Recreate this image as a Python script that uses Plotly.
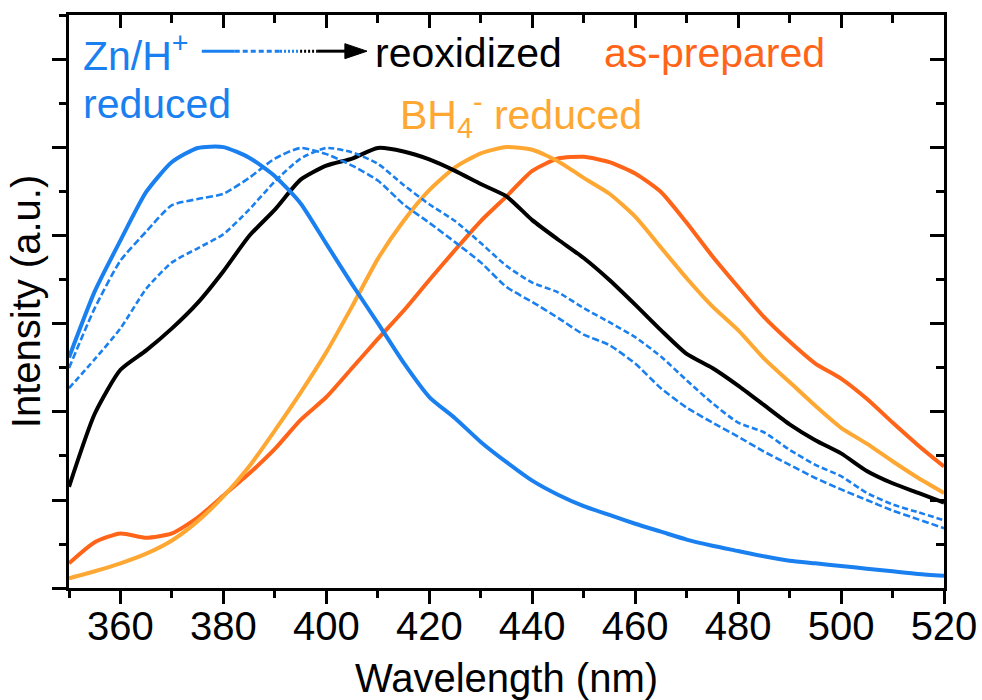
import plotly.graph_objects as go

# Emission wavelength grid (nm)
wavelength = [350, 355, 360, 365, 370, 375, 380, 385, 390, 395, 400, 405,
              410, 415, 420, 425, 430, 435, 440, 445, 450, 455, 460, 465,
              470, 475, 480, 485, 490, 495, 500, 505, 510, 515, 520]

# Zn/H+ reduced sample
zn_reduced = [2.62, 3.37, 3.95, 4.50, 4.84, 5.00, 5.01, 4.89, 4.68, 4.37, 3.91, 3.45,
              3.01, 2.56, 2.17, 1.93, 1.66, 1.43, 1.22, 1.06, 0.93, 0.83, 0.73, 0.64,
              0.55, 0.48, 0.42, 0.36, 0.31, 0.28, 0.25, 0.22, 0.19, 0.16, 0.14]

# intermediate reoxidation stages
reox_stage1 = [2.50, 3.18, 3.72, 4.05, 4.35, 4.42, 4.48, 4.66, 4.88, 5.00, 4.93, 4.80,
               4.63, 4.36, 4.15, 3.93, 3.70, 3.42, 3.25, 3.07, 2.88, 2.76, 2.55, 2.27,
               2.05, 1.88, 1.72, 1.55, 1.40, 1.25, 1.12, 1.00, 0.88, 0.78, 0.68]
reox_stage2 = [2.27, 2.60, 2.95, 3.40, 3.70, 3.86, 4.02, 4.30, 4.62, 4.88, 5.00, 4.95,
               4.82, 4.58, 4.36, 4.17, 3.92, 3.66, 3.47, 3.36, 3.18, 3.02, 2.85, 2.63,
               2.36, 2.10, 1.88, 1.77, 1.57, 1.40, 1.27, 1.08, 0.95, 0.86, 0.77]

# fully reoxidized
reoxidized = [1.15, 1.98, 2.48, 2.70, 2.95, 3.24, 3.60, 4.00, 4.30, 4.64, 4.80, 4.88,
              5.00, 4.96, 4.87, 4.74, 4.59, 4.45, 4.18, 3.96, 3.75, 3.50, 3.22, 2.93,
              2.66, 2.50, 2.30, 2.08, 1.86, 1.68, 1.53, 1.33, 1.19, 1.08, 0.97]

# BH4- reduced sample
bh4_reduced = [0.11, 0.19, 0.28, 0.39, 0.54, 0.76, 1.04, 1.38, 1.79, 2.22, 2.68, 3.20,
               3.74, 4.17, 4.52, 4.78, 4.94, 5.01, 4.98, 4.85, 4.66, 4.48, 4.22, 3.87,
               3.52, 3.20, 2.93, 2.61, 2.34, 2.07, 1.82, 1.64, 1.44, 1.25, 1.08]

# as-prepared sample
as_prepared = [0.28, 0.52, 0.62, 0.57, 0.62, 0.80, 1.05, 1.30, 1.58, 1.91, 2.17, 2.50,
               2.83, 3.15, 3.50, 3.84, 4.17, 4.45, 4.74, 4.88, 4.90, 4.84, 4.71, 4.50,
               4.15, 3.77, 3.42, 3.08, 2.80, 2.55, 2.38, 2.15, 1.88, 1.62, 1.38]

BLUE = "#1a80f0"
LIGHT_ORANGE = "#ffa733"
DARK_ORANGE = "#ff6418"
BLACK = "#000000"
FONT = "Liberation Sans, Arial, sans-serif"

X_RANGE = [350, 520]
Y_RANGE = [0, 6.511]

fig = go.Figure()

series = [
    (as_prepared, DARK_ORANGE, "solid", 4),
    (bh4_reduced, LIGHT_ORANGE, "solid", 4),
    (reoxidized, BLACK, "solid", 4),
    (reox_stage2, BLUE, "6px,3px", 2.6),
    (reox_stage1, BLUE, "7px,3px", 2.6),
    (zn_reduced, BLUE, "solid", 4),
]
for values, color, dash, width in series:
    fig.add_trace(go.Scatter(
        x=wavelength, y=values, mode="lines",
        line=dict(color=color, width=width, dash=dash, shape="spline", smoothing=0.6),
        showlegend=False, hoverinfo="skip",
    ))

# empty trace so the mirrored top/right axes get drawn
fig.add_trace(go.Scatter(x=[None], y=[None], xaxis="x2", yaxis="y2",
                         showlegend=False, hoverinfo="skip"))

# arrow key: solid -> dashed -> dotted -> reoxidized
key_y = 6.10
key_segments = [
    (375.8, 382.2, BLUE, "solid"),
    (382.2, 391.0, BLUE, "5px,3px"),
    (391.0, 394.9, BLUE, "2px,2px"),
    (394.9, 398.2, BLACK, "2px,2px"),
    (398.2, 404.0, BLACK, "solid"),
]
for x0, x1, color, dash in key_segments:
    fig.add_shape(type="line", xref="x", yref="y", x0=x0, x1=x1, y0=key_y, y1=key_y,
                  line=dict(color=color, width=3, dash=dash))
fig.add_shape(type="path", xref="x", yref="y",
              path=f"M 403.6,{key_y + 0.085} L 407.9,{key_y} L 403.6,{key_y - 0.085} Z",
              fillcolor=BLACK, line=dict(color=BLACK, width=1))

labels = [
    ("Zn/H<sup>+</sup>", 352.3, 6.08, "left", BLUE),
    ("reduced", 352.3, 5.50, "left", BLUE),
    ("reoxidized", 409.0, 6.08, "left", BLACK),
    ("as-prepared", 453.5, 6.08, "left", DARK_ORANGE),
    ("BH<sub>4</sub><sup>-</sup> reduced", 461.8, 5.38, "right", LIGHT_ORANGE),
]
for text, x, y, anchor, color in labels:
    fig.add_annotation(text=text, x=x, y=y, xref="x", yref="y", xanchor=anchor,
                       yanchor="middle", showarrow=False,
                       font=dict(family=FONT, size=41, color=color))

axis_common = dict(showline=True, linecolor=BLACK, linewidth=3, showgrid=False,
                   zeroline=False, tickcolor=BLACK, tickwidth=2.5, automargin=False)

fig.update_layout(
    width=982, height=700,
    margin=dict(l=69, r=38, t=15, b=112),
    paper_bgcolor="white", plot_bgcolor="white",
    font=dict(family=FONT, size=40, color=BLACK),
    xaxis=dict(range=X_RANGE, ticks="outside", tick0=360, dtick=20, ticklen=13,
               minor=dict(ticks="outside", tick0=350, dtick=10, ticklen=7,
                          tickwidth=2.5, tickcolor=BLACK),
               tickfont=dict(family=FONT, size=40, color=BLACK),
               ticklabelstandoff=-12,
               title=dict(text="Wavelength (nm)", standoff=17,
                          font=dict(family=FONT, size=40, color=BLACK)),
               **axis_common),
    xaxis2=dict(range=X_RANGE, overlaying="x", side="top", ticks="inside",
                tick0=360, dtick=20, ticklen=13, showticklabels=False,
                minor=dict(ticks="inside", tick0=350, dtick=10, ticklen=8,
                           tickwidth=2.5, tickcolor=BLACK),
                **axis_common),
    yaxis=dict(range=Y_RANGE, ticks="outside", tick0=0, dtick=1, ticklen=14,
               showticklabels=False,
               minor=dict(ticks="outside", tick0=0, dtick=0.5, ticklen=7,
                          tickwidth=2.5, tickcolor=BLACK),
               title=dict(text="Intensity (a.u.)", standoff=0,
                          font=dict(family=FONT, size=40, color=BLACK)),
               **axis_common),
    yaxis2=dict(range=Y_RANGE, overlaying="y", side="right", ticks="inside",
                tick0=0, dtick=1, ticklen=14, showticklabels=False,
                minor=dict(ticks="inside", tick0=0, dtick=0.5, ticklen=8,
                           tickwidth=2.5, tickcolor=BLACK),
                **axis_common),
)

fig.write_html("out.html")
